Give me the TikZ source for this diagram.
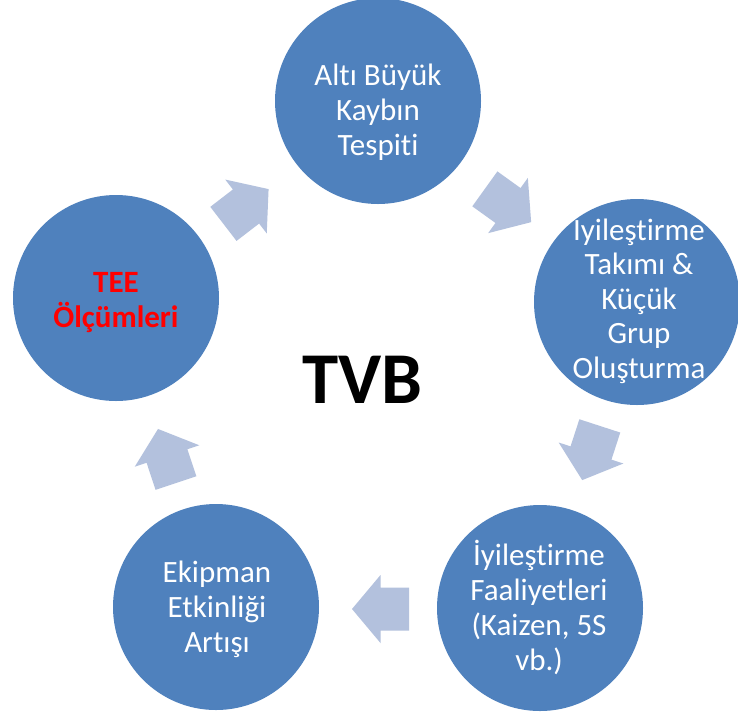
\documentclass[tikz,border=0pt]{standalone}
\usepackage{fontspec}
\setmainfont{Carlito}[Ligatures={NoCommon}]
\definecolor{discblue}{HTML}{4F81BD}
\definecolor{arrowblue}{HTML}{B3C1DD}
\definecolor{tered}{HTML}{FF0000}
\tikzset{
  disc/.style={circle, fill=discblue, draw=none, inner sep=0pt, minimum size=206pt},
  linetext/.style={anchor=base, inner sep=0pt, text=white, font=\fontsize{31}{35}\selectfont},
  redtext/.style={anchor=base, inner sep=0pt, text=tered, font=\fontsize{31}{35}\selectfont\bfseries},
  blockarrow/.pic={
    \fill[arrowblue] (-28.5,-21.5) -- (0,-21.5) -- (0,-34) -- (28.5,0)
      -- (0,34) -- (0,21.5) -- (-28.5,21.5) -- cycle;
  }
}
\begin{document}
\begin{tikzpicture}[x=1pt, y=1pt]
\useasboundingbox (0,0) rectangle (738,-713);
\fill[white] (0,0) rectangle (738,-713);

% five stages of the cycle
\node[disc] (top)   at (378,-101) {};
\node[disc] (right) at (637,-302) {};
\node[disc] (brt)   at (540,-608) {};
\node[disc] (blt)   at (216,-607) {};
\node[disc] (left)  at (116,-298) {};

% block arrows between the stages
\pic[rotate=37.6]  (a1) at (246,-206.5) {blockarrow};
\pic[rotate=-35.7] (a2) at (508,-205.5) {blockarrow};
\pic[rotate=-108]  (a3) at (591,-453)   {blockarrow};
\pic[rotate=180]   (a4) at (380.5,-609) {blockarrow};
\pic[rotate=108.4] (a5) at (167,-456)   {blockarrow};

% stage texts
\node[linetext] (t1a) at (378,-85)  {Altı Büyük};
\node[linetext] (t1b) at (378,-120) {Kaybın};
\node[linetext] (t1c) at (378,-155) {Tespiti};

\node[linetext] (t2a) at (639,-240)   {Iyileştirme};
\node[linetext] (t2b) at (639,-274.5) {Takımı \&};
\node[linetext] (t2c) at (639,-309)   {Küçük};
\node[linetext] (t2d) at (639,-343.5) {Grup};
\node[linetext] (t2e) at (639,-378)   {Oluşturma};

\node[linetext] (t3a) at (539,-565) {İyileştirme};
\node[linetext] (t3b) at (539,-600) {Faaliyetleri};
\node[linetext] (t3c) at (539,-635) {(Kaizen, 5S};
\node[linetext] (t3d) at (539,-670) {vb.)};

\node[linetext] (t4a) at (217,-582) {Ekipman};
\node[linetext] (t4b) at (217,-617) {Etkinliği};
\node[linetext] (t4c) at (217,-652) {Artışı};

\node[redtext] (t5a) at (116,-292) {TEE};
\node[redtext] (t5b) at (116,-327) {Ölçümleri};

% centre title
\node[anchor=base, inner sep=0pt, font=\fontsize{73}{80}\selectfont\bfseries] (title) at (362.5,-403) {TVB};
\end{tikzpicture}
\end{document}
